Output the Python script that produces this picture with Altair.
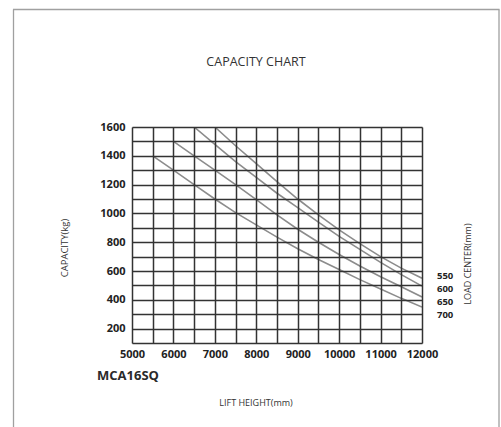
import altair as alt
import pandas as pd

# ---- data ----
lift_550 = [7000, 7500, 8000, 8500, 9000, 9500, 10000, 10500, 11000, 11500, 12000]
cap_550 = [1600, 1470, 1345, 1220, 1100, 990, 885, 790, 700, 620, 550]

lift_600 = [6500, 7000, 7500, 8000, 8500, 9000, 9500, 10000, 10500, 11000, 11500, 12000]
cap_600 = [1600, 1480, 1360, 1250, 1140, 1040, 940, 840, 750, 660, 575, 495]

lift_650 = [6000, 6500, 7000, 7500, 8000, 8500, 9000, 9500, 10000, 10500, 11000, 11500, 12000]
cap_650 = [1500, 1400, 1300, 1200, 1095, 990, 890, 800, 715, 635, 560, 490, 420]

lift_700 = [5500, 6000, 6500, 7000, 7500, 8000, 8500, 9000, 9500, 10000, 10500, 11000, 11500, 12000]
cap_700 = [1400, 1300, 1200, 1100, 1005, 920, 835, 755, 680, 610, 540, 475, 410, 350]

load_centers = ["550", "600", "650", "700"]
x_ticks = list(range(5000, 12001, 500))
y_ticks = list(range(100, 1601, 100))

rows = []
for lc, xs, ys in [("550", lift_550, cap_550), ("600", lift_600, cap_600),
                   ("650", lift_650, cap_650), ("700", lift_700, cap_700)]:
    for a, b in zip(xs, ys):
        rows.append({"lift": a, "cap": b, "lc": lc})
df = pd.DataFrame(rows)

W, H = 290, 216
FONT = "Open Sans"

x_scale = alt.Scale(domain=[5000, 12000], nice=False, zero=False)
y_scale = alt.Scale(domain=[100, 1600], nice=False, zero=False)

lines = alt.Chart(df).mark_line(color="#8c8c8c", strokeWidth=1.6, clip=True).encode(
    x=alt.X("lift:Q", scale=x_scale,
            axis=alt.Axis(values=x_ticks, title=None, grid=True, gridColor="#333333",
                          gridWidth=1.5, gridOpacity=1, domain=False, ticks=False,
                          labelExpr="datum.value % 1000 == 0 ? datum.label : ''",
                          format="d", labelFont=FONT, labelFontWeight="bold",
                          labelFontSize=11, labelColor="#222222", labelPadding=5,
                          labelFlush=False, labelOverlap=False, zindex=1)),
    y=alt.Y("cap:Q", scale=y_scale,
            axis=alt.Axis(values=y_ticks, title=None, grid=True, gridColor="#333333",
                          gridWidth=1.5, gridOpacity=1, domain=False, ticks=False,
                          labelExpr="datum.value % 200 == 0 ? datum.label : ''",
                          format="d", labelFont=FONT, labelFontWeight="bold",
                          labelFontSize=11, labelColor="#222222", labelPadding=7,
                          labelFlush=False, labelOverlap=False, zindex=1)),
    detail="lc:N",
)

lc_df = pd.DataFrame({"lc": load_centers})
lc_labels = alt.Chart(lc_df).mark_text(
    align="left", baseline="middle", font=FONT, fontWeight="bold", fontSize=9.5,
    color="#222222"
).encode(
    x=alt.value(W + 15),
    y=alt.Y("lc:O", scale=alt.Scale(domain=load_centers, range=[148.5, 188], padding=0),
            axis=None),
    text="lc:N",
)


def label(txt, x, y, size, weight="normal", angle=0, align="center", color="#333333"):
    kw = dict(align=align, baseline="middle", font=FONT, fontSize=size,
              fontWeight=weight, color=color)
    if angle:
        kw["angle"] = angle
    return alt.Chart(pd.DataFrame({"t": [txt]})).mark_text(**kw).encode(
        text="t:N", x=alt.value(x), y=alt.value(y))


title = label("CAPACITY CHART", 124, -65, 12.5)
ylab = label("CAPACITY(kg)", -67, 121, 9.5, angle=270)
rlab = label("LOAD CENTER(mm)", 336, 137, 9, angle=270)
xlab = label("LIFT HEIGHT(mm)", 124, 276, 9)
model = label("MCA16SQ", -35, 249, 13, weight="bold", align="left", color="#2a2a2a")

frame_color = "#a0a0a0"
frame_top = alt.Chart(pd.DataFrame({"k": [0]})).mark_rule(color=frame_color, strokeWidth=1.3).encode(
    x=alt.value(-119), x2=alt.value(367.5), y=alt.value(-117.5))
frame_left = alt.Chart(pd.DataFrame({"k": [0]})).mark_rule(color=frame_color, strokeWidth=1.3).encode(
    x=alt.value(-118.5), y=alt.value(-117.5), y2=alt.value(310))
frame_right = alt.Chart(pd.DataFrame({"k": [0]})).mark_rule(color=frame_color, strokeWidth=1.3).encode(
    x=alt.value(367), y=alt.value(-117.5), y2=alt.value(310))

chart = alt.layer(
    lines, lc_labels, title, ylab, rlab, xlab, model, frame_top, frame_left, frame_right
).resolve_scale(y="independent").properties(
    width=W, height=H,
    autosize=alt.AutoSizeParams(type="none"),
    padding={"left": 132, "top": 127, "right": 79, "bottom": 84},
).configure_view(stroke=None).configure(background="white")

chart.save("out.html", embed_options={"renderer": "svg", "actions": False})
